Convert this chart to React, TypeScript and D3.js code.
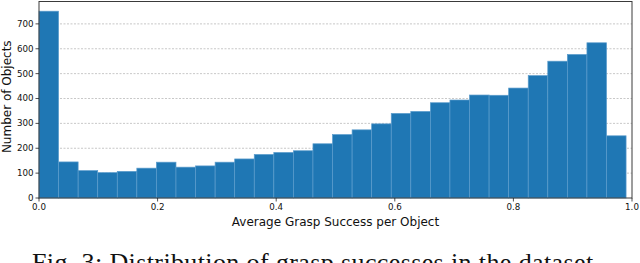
import React from "react";
import * as d3 from "d3";

// histogram of average grasp success (30 bins, 0 .. 0.99)
const binCount = 30;
const binStart = 0;
const binEnd = 0.99;
const counts = [
  751, 145, 110, 102, 107, 120, 144, 124, 129, 144,
  157, 175, 183, 190, 218, 255, 274, 298, 340, 348,
  383, 394, 414, 413, 442, 492, 550, 577, 624, 250,
];
const xTicks = [0, 0.2, 0.4, 0.6, 0.8, 1.0];
const yTicks = [0, 100, 200, 300, 400, 500, 600, 700];
const xLabel = "Average Grasp Success per Object";
const yLabel = "Number of Objects";
const caption = "Fig. 3: Distribution of grasp successes in the dataset.";

const W = 640;
const H = 263;
const margin = { top: 1.5, right: 8, bottom: 65, left: 39 };

const App = () => {
  const innerW = W - margin.left - margin.right;
  const innerH = H - margin.top - margin.bottom;

  const x = d3.scaleLinear().domain([0, 1]).range([0, innerW]);
  const y = d3.scaleLinear().domain([0, 790]).range([innerH, 0]);

  const step = (binEnd - binStart) / binCount;
  const bins = counts.map((c, i) => ({
    x0: binStart + i * step,
    x1: binStart + (i + 1) * step,
    count: c,
  }));

  const tickFont = "DejaVu Sans, sans-serif";

  return (
    <svg
      width={W}
      height={H}
      style={{ position: "absolute", left: 0, top: 0, background: "#fff" }}
    >
      <g transform={`translate(${margin.left},${margin.top})`}>
        {/* grid */}
        {yTicks
          .filter((t) => t > 0)
          .map((t) => (
            <line
              key={"g" + t}
              x1={0}
              x2={innerW}
              y1={y(t)}
              y2={y(t)}
              stroke="#b0b0b0"
              strokeWidth={0.7}
              strokeDasharray="2,1.5"
            />
          ))}

        {/* bars */}
        {bins.map((b, i) => (
          <rect
            key={i}
            x={x(b.x0)}
            y={y(b.count)}
            width={x(b.x1) - x(b.x0)}
            height={innerH - y(b.count)}
            fill="#1f77b4"
            stroke="#5b9ccc"
            strokeWidth={0.7}
          />
        ))}

        {/* frame */}
        <rect
          x={0}
          y={0}
          width={innerW}
          height={innerH}
          fill="none"
          stroke="#3a3a3a"
          strokeWidth={1}
        />

        {/* y axis */}
        {yTicks.map((t) => (
          <g key={"y" + t} transform={`translate(0,${y(t)})`}>
            <line x1={-3.5} x2={0} stroke="#222" strokeWidth={0.8} />
            <text
              x={-5.5}
              dy="0.34em"
              textAnchor="end"
              fontFamily={tickFont}
              fontSize={8.7}
              fill="#111"
            >
              {t}
            </text>
          </g>
        ))}

        {/* x axis */}
        {xTicks.map((t) => (
          <g key={"x" + t} transform={`translate(${x(t)},${innerH})`}>
            <line y1={0} y2={3.5} stroke="#222" strokeWidth={0.8} />
            <text
              y={12}
              textAnchor="middle"
              fontFamily={tickFont}
              fontSize={8.7}
              fill="#111"
            >
              {t.toFixed(1)}
            </text>
          </g>
        ))}

        <text
          x={innerW / 2}
          y={innerH + 28}
          textAnchor="middle"
          fontFamily={tickFont}
          fontSize={12}
          fill="#111"
        >
          {xLabel}
        </text>
        <text
          transform={`translate(${-margin.left + 11},${innerH / 2 - 3}) rotate(-90)`}
          textAnchor="middle"
          fontFamily={tickFont}
          fontSize={12}
          fill="#111"
        >
          {yLabel}
        </text>
      </g>

      <text
        x={32}
        y={271}
        textLength={568}
        lengthAdjust="spacing"
        fontFamily="Liberation Serif, Times New Roman, serif"
        fontSize={26}
        fill="#111"
      >
        {caption}
      </text>
    </svg>
  );
};

export default App;
